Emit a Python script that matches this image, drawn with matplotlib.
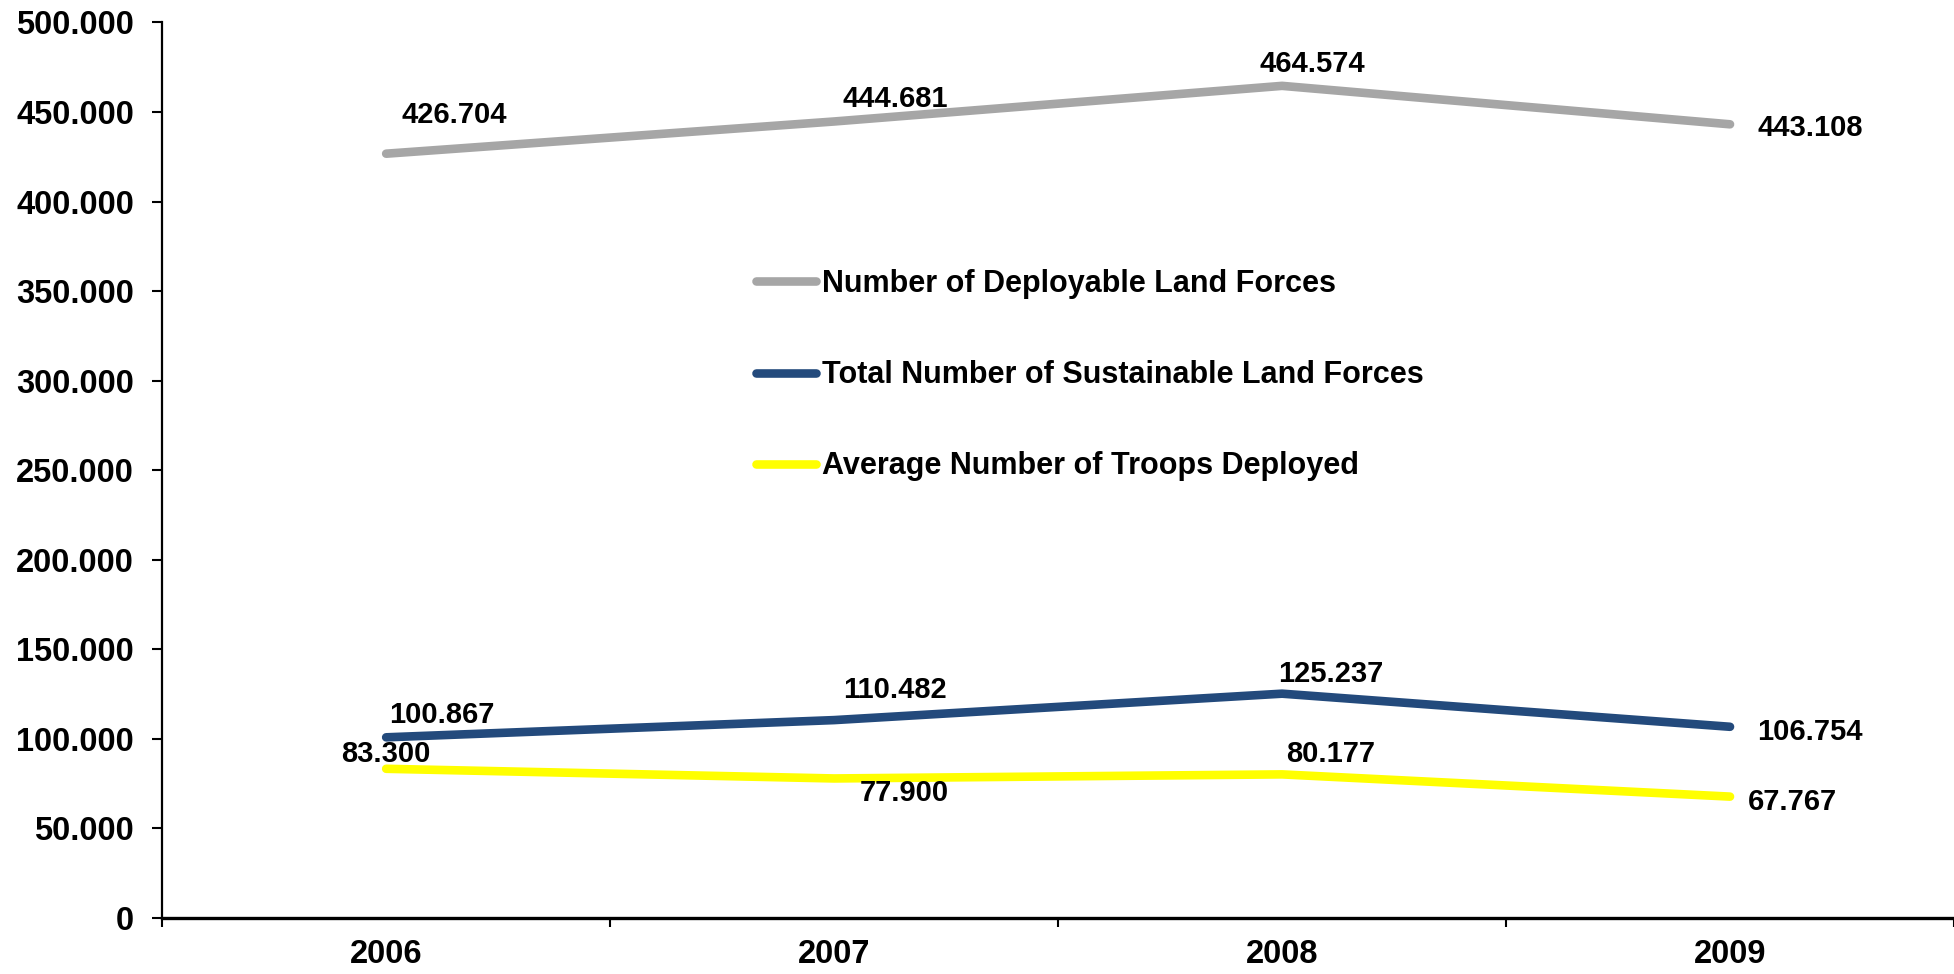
import matplotlib
matplotlib.use('Agg')
import matplotlib.pyplot as plt
import matplotlib.ticker as ticker

years = ['2006', '2007', '2008', '2009']
deployable = [426704, 444681, 464574, 443108]
sustainable = [100867, 110482, 125237, 106754]
deployed = [83300, 77900, 80177, 67767]
series_names = ['Number of Deployable Land Forces',
                'Total Number of Sustainable Land Forces',
                'Average Number of Troops Deployed']

def dotted(v, pos=None):
    return f'{int(round(v)):,}'.replace(',', '.')

plt.rcParams['font.family'] = ['Liberation Sans', 'DejaVu Sans']
plt.rcParams['font.weight'] = 'bold'

fig = plt.figure(figsize=(19.54, 9.74), dpi=100)
ax = fig.add_axes([0.083, 0.0575, 0.917, 0.9195])

x = list(range(len(years)))
colors = ['#A6A6A6', '#234A7C', '#FFFF00']
all_series = [deployable, sustainable, deployed]
# label offsets in pixels (dx, dy)
offsets = [
    [(68, 39), (61, 22), (30, 22), (80, -4)],
    [(56, 22), (61, 30), (49, 20), (80, -5)],
    [(0, 15), (70, -15), (49, 20), (62, -5)],
]

lines = []
for vals, col, name, offs in zip(all_series, colors, series_names, offsets):
    ln, = ax.plot(x, vals, color=col, lw=6.2, solid_capstyle='round', label=name)
    lines.append(ln)
    for xi, v, (dx, dy) in zip(x, vals, offs):
        ax.annotate(dotted(v), (xi, v), xytext=(dx, dy), textcoords='offset pixels',
                    ha='center', va='center', fontsize=21, fontweight='bold')

ax.set_xlim(-0.5, 3.5)
ax.set_ylim(0, 500000)
ax.yaxis.set_major_locator(ticker.MultipleLocator(50000))
ax.yaxis.set_major_formatter(ticker.FuncFormatter(dotted))

ax.set_xticks(x)
ax.set_xticklabels(years)
ax.set_xticks([-0.5, 0.5, 1.5, 2.5, 3.5], minor=True)
ax.tick_params(axis='x', which='major', length=0, pad=15, labelsize=23.5)
ax.tick_params(axis='x', which='minor', length=6.5, width=1.5, direction='out')
ax.tick_params(axis='y', length=7.2, width=1.5, labelsize=23.5, pad=13)

ax.spines['top'].set_visible(False)
ax.spines['right'].set_visible(False)
ax.spines['left'].set_linewidth(1.6)
ax.spines['bottom'].set_linewidth(2.4)

leg = ax.legend(handles=lines, loc='center left', bbox_to_anchor=(0.3315, 0.606),
                frameon=False, fontsize=22, handlelength=1.96, handletextpad=0.2,
                labelspacing=2.0, borderaxespad=0, borderpad=0)
for t in leg.get_texts():
    t.set_fontweight('bold')

fig.savefig('out.png', dpi=100)
